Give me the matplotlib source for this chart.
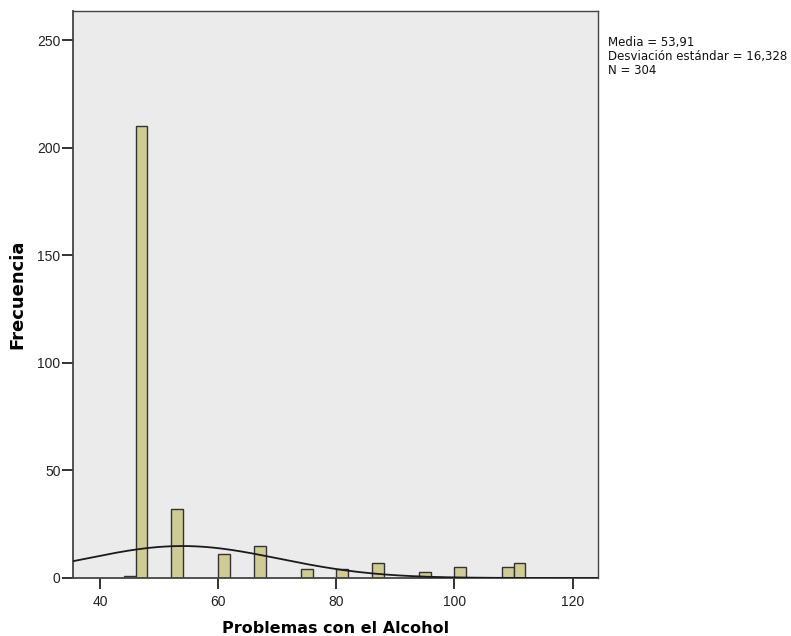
import numpy as np
import matplotlib.pyplot as plt

# ---- data ----
bin_left = [44, 46, 52, 60, 66, 74, 80, 86, 94, 100, 108, 110]
counts = [1, 210, 32, 11, 15, 4, 4, 7, 3, 5, 5, 7]
bin_width = 2

media = 53.91
desv = 16.328
n_total = 304

x_ticks = [40, 60, 80, 100, 120]
y_ticks = [0, 50, 100, 150, 200, 250]

plt.rcParams["font.family"] = ["Liberation Sans", "DejaVu Sans"]

fig = plt.figure(figsize=(7.91, 6.36), dpi=100)
ax = fig.add_axes([0.0923, 0.0912, 0.6637, 0.8915])
ax.set_facecolor("#EBEBEB")

ax.bar(bin_left, counts, width=bin_width, align="edge",
       color="#CFCB95", edgecolor="#333333", linewidth=1.0, zorder=2)

# normal curve from the stats shown in the box
xs = np.linspace(35.4, 124.3, 400)
ys = n_total * bin_width / (desv * np.sqrt(2 * np.pi)) * np.exp(-0.5 * ((xs - media) / desv) ** 2)
ax.plot(xs, ys, color="#1a1a1a", linewidth=1.3, zorder=3)

ax.set_xlim(35.4, 124.3)
ax.set_ylim(0, 263.5)
ax.set_xticks(x_ticks)
ax.set_yticks(y_ticks)
ax.tick_params(axis="both", direction="out", length=8, width=1.3,
               labelsize=10, colors="#222222")
ax.tick_params(axis="y", pad=1)
ax.tick_params(axis="x", pad=4)

for s in ax.spines.values():
    s.set_color("#444444")
    s.set_linewidth(1.0)
ax.spines["left"].set_linewidth(1.3)
ax.spines["bottom"].set_linewidth(1.3)

ax.set_xlabel("Problemas con el Alcohol", labelpad=9,
              family="DejaVu Sans", fontsize=11.5, fontweight="bold")
ax.set_ylabel("Frecuencia", labelpad=8,
              family="DejaVu Sans", fontsize=13, fontweight="bold")

fig.text(0.769, 0.943,
         "Media = 53,91\nDesviación estándar = 16,328\nN = 304",
         family="DejaVu Sans", fontsize=8.5, va="top", ha="left",
         linespacing=1.08, color="#111111")

fig.savefig("out.png", dpi=100, facecolor="white")
